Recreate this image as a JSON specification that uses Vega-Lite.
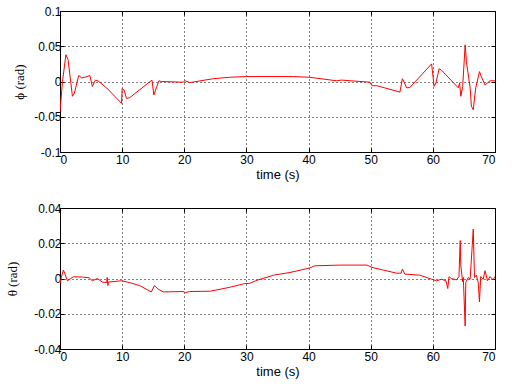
{
  "$schema": "https://vega.github.io/schema/vega-lite/v6.json",
  "background": "white",
  "padding": {"left": 6, "top": 4, "right": 5, "bottom": 5},
  "spacing": 19,
  "datasets": {
    "phi": [
      {"t": 0, "v": -0.043}, {"t": 0.4, "v": 0}, {"t": 0.95, "v": 0.038}, {"t": 1.3, "v": 0.031},
      {"t": 2.0, "v": -0.021}, {"t": 2.3, "v": -0.017}, {"t": 3.0, "v": 0.0085}, {"t": 3.5, "v": 0.005},
      {"t": 4.0, "v": 0.006}, {"t": 4.8, "v": 0.0085}, {"t": 5.2, "v": -0.007}, {"t": 5.7, "v": 0.002},
      {"t": 6.1, "v": 0.001}, {"t": 7.5, "v": -0.009}, {"t": 9.9, "v": -0.031}, {"t": 10.0, "v": -0.010},
      {"t": 10.3, "v": -0.012}, {"t": 10.7, "v": -0.024}, {"t": 11.2, "v": -0.023}, {"t": 14.8, "v": 0.002},
      {"t": 15.1, "v": -0.019}, {"t": 15.5, "v": -0.009}, {"t": 15.9, "v": 0.001}, {"t": 16.3, "v": 0},
      {"t": 19.8, "v": -0.001}, {"t": 20.1, "v": 0.001}, {"t": 20.9, "v": -0.0015}, {"t": 24.7, "v": 0.004},
      {"t": 27.3, "v": 0.006}, {"t": 30, "v": 0.007}, {"t": 37.6, "v": 0.007}, {"t": 40.2, "v": 0.006},
      {"t": 44.5, "v": 0.001}, {"t": 45.3, "v": 0.002}, {"t": 49.9, "v": -0.001}, {"t": 50.2, "v": -0.006},
      {"t": 51, "v": -0.006}, {"t": 54.7, "v": -0.015}, {"t": 55.1, "v": 0.004}, {"t": 55.8, "v": -0.009},
      {"t": 56.3, "v": -0.0085}, {"t": 59.8, "v": 0.025}, {"t": 60.2, "v": -0.007}, {"t": 60.5, "v": -0.002},
      {"t": 61.0, "v": 0.018}, {"t": 61.4, "v": 0.016}, {"t": 64.1, "v": -0.009}, {"t": 64.3, "v": -0.002},
      {"t": 64.5, "v": -0.021}, {"t": 64.8, "v": -0.007}, {"t": 65.2, "v": 0.052}, {"t": 65.4, "v": 0.028},
      {"t": 66.0, "v": -0.009}, {"t": 66.2, "v": -0.035}, {"t": 66.5, "v": -0.040}, {"t": 66.9, "v": -0.009},
      {"t": 67.5, "v": 0.014}, {"t": 67.8, "v": 0.007}, {"t": 68.4, "v": -0.005}, {"t": 69.2, "v": 0.001},
      {"t": 70, "v": 0.001}
    ],
    "theta": [
      {"t": 0, "v": -0.003}, {"t": 0.2, "v": 0.0006}, {"t": 0.55, "v": 0.0048}, {"t": 0.8, "v": 0.0025},
      {"t": 1.2, "v": -0.0013}, {"t": 1.7, "v": 0}, {"t": 2.2, "v": 0.001}, {"t": 3.6, "v": 0.0008},
      {"t": 4.7, "v": 0.0004}, {"t": 5.2, "v": -0.0013}, {"t": 6.0, "v": 0}, {"t": 6.8, "v": -0.002},
      {"t": 7.5, "v": -0.0023}, {"t": 7.6, "v": 0.0006}, {"t": 7.7, "v": -0.004}, {"t": 7.8, "v": -0.002},
      {"t": 9.9, "v": -0.0013}, {"t": 11.2, "v": -0.0023}, {"t": 12.8, "v": -0.004}, {"t": 14.7, "v": -0.0076},
      {"t": 15.2, "v": -0.004}, {"t": 15.8, "v": -0.006}, {"t": 16.6, "v": -0.0076}, {"t": 19.8, "v": -0.0074},
      {"t": 20.2, "v": -0.008}, {"t": 20.9, "v": -0.0074}, {"t": 24.2, "v": -0.0072}, {"t": 27.3, "v": -0.005},
      {"t": 29.7, "v": -0.0029}, {"t": 30.5, "v": -0.0028}, {"t": 31.7, "v": -0.001}, {"t": 34.4, "v": 0.0019},
      {"t": 37.0, "v": 0.0034}, {"t": 40.2, "v": 0.006}, {"t": 41.0, "v": 0.0072}, {"t": 45.1, "v": 0.0076},
      {"t": 49.4, "v": 0.0076}, {"t": 50.2, "v": 0.0063}, {"t": 52.0, "v": 0.0048}, {"t": 54.2, "v": 0.003},
      {"t": 54.9, "v": 0.003}, {"t": 55.1, "v": 0.0053}, {"t": 55.5, "v": 0.0025}, {"t": 57.9, "v": 0.0019},
      {"t": 59.8, "v": -0.0004}, {"t": 60.6, "v": -0.0013}, {"t": 61.4, "v": -0.0004}, {"t": 62.1, "v": -0.0013},
      {"t": 62.4, "v": -0.0057}, {"t": 62.6, "v": 0.001}, {"t": 63.0, "v": 0}, {"t": 63.8, "v": -0.0008},
      {"t": 64.2, "v": 0.0011}, {"t": 64.4, "v": 0.0215}, {"t": 64.5, "v": 0.0072}, {"t": 64.8, "v": -0.0019},
      {"t": 64.9, "v": 0.0006}, {"t": 65.2, "v": -0.027}, {"t": 65.3, "v": -0.0023}, {"t": 65.7, "v": 0.0006},
      {"t": 66.0, "v": -0.0004}, {"t": 66.5, "v": 0.028}, {"t": 66.7, "v": 0.0006}, {"t": 67.0, "v": 0.0019},
      {"t": 67.3, "v": -0.0023}, {"t": 67.5, "v": -0.0133}, {"t": 67.7, "v": 0.0011}, {"t": 68.1, "v": -0.0004},
      {"t": 68.4, "v": 0.0044}, {"t": 68.8, "v": -0.0013}, {"t": 69.2, "v": 0.0011}, {"t": 69.7, "v": -0.0008},
      {"t": 70, "v": 0.0011}
    ]
  },
  "config": {
    "font": "Liberation Sans",
    "view": {"stroke": "black", "strokeWidth": 1},
    "axis": {
      "labelFont": "Liberation Sans",
      "labelFontSize": 12,
      "labelColor": "black",
      "titleFont": "Liberation Sans",
      "titleFontSize": 13,
      "titleFontWeight": "normal",
      "titleColor": "black",
      "domainColor": "black",
      "tickColor": "black",
      "tickSize": -4,
      "gridColor": "black",
      "gridDash": [1, 3],
      "gridOpacity": 1,
      "gridWidth": 1
    }
  },
  "vconcat": [
    {
      "width": 435,
      "height": 141,
      "data": {"name": "phi"},
      "layer": [
        {
          "mark": {"type": "line", "color": "#ff0000", "strokeWidth": 1, "clip": true},
          "encoding": {
            "x": {"field": "t", "type": "quantitative", "scale": {"domain": [0, 70], "nice": false},
                  "axis": {"title": "time (s)", "values": [0,10,20,30,40,50,60,70], "labelFontSize": 12, "titleFontSize": 13, "titleFontWeight": "normal", "labelPadding": 6, "titlePadding": 3, "grid": true}},
            "y": {"field": "v", "type": "quantitative", "scale": {"domain": [-0.1, 0.1], "nice": false},
                  "axis": {"title": "ϕ (rad)", "titleFont": "Liberation Serif", "titleFontSize": 13, "titleFontWeight": "normal", "labelFontSize": 12, "values": [-0.1,-0.05,0,0.05,0.1], "labelExpr": "'' + datum.value", "labelPadding": 3, "titlePadding": 7, "grid": true}}
          }
        },
        {
          "mark": {"type": "line", "opacity": 0},
          "encoding": {
            "x": {"field": "t", "type": "quantitative", "axis": {"orient": "top", "labels": false, "title": null, "domain": false, "grid": false, "values": [0,10,20,30,40,50,60,70]}},
            "y": {"field": "v", "type": "quantitative", "axis": {"orient": "right", "labels": false, "title": null, "domain": false, "grid": false, "values": [-0.1,-0.05,0,0.05,0.1]}}
          }
        }
      ],
      "resolve": {"axis": {"x": "independent", "y": "independent"}}
    },
    {
      "width": 435,
      "height": 141,
      "data": {"name": "theta"},
      "layer": [
        {
          "mark": {"type": "line", "color": "#ff0000", "strokeWidth": 1, "clip": true},
          "encoding": {
            "x": {"field": "t", "type": "quantitative", "scale": {"domain": [0, 70], "nice": false},
                  "axis": {"title": "time (s)", "values": [0,10,20,30,40,50,60,70], "labelFontSize": 12, "titleFontSize": 13, "titleFontWeight": "normal", "labelPadding": 6, "titlePadding": 3, "grid": true}},
            "y": {"field": "v", "type": "quantitative", "scale": {"domain": [-0.04, 0.04], "nice": false},
                  "axis": {"title": "θ (rad)", "titleFont": "Liberation Serif", "titleFontSize": 13, "titleFontWeight": "normal", "labelFontSize": 12, "values": [-0.04,-0.02,0,0.02,0.04], "labelExpr": "'' + datum.value", "labelPadding": 3, "titlePadding": 14, "grid": true}}
          }
        },
        {
          "mark": {"type": "line", "opacity": 0},
          "encoding": {
            "x": {"field": "t", "type": "quantitative", "axis": {"orient": "top", "labels": false, "title": null, "domain": false, "grid": false, "values": [0,10,20,30,40,50,60,70]}},
            "y": {"field": "v", "type": "quantitative", "axis": {"orient": "right", "labels": false, "title": null, "domain": false, "grid": false, "values": [-0.04,-0.02,0,0.02,0.04]}}
          }
        }
      ],
      "resolve": {"axis": {"x": "independent", "y": "independent"}}
    }
  ]
}
